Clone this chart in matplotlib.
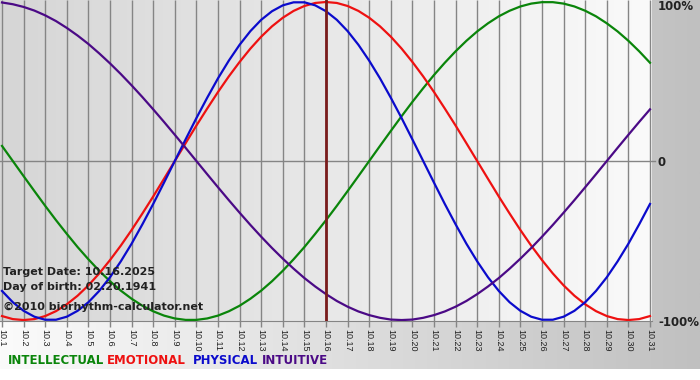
import matplotlib.pyplot as plt
import numpy as np
from matplotlib.colors import LinearSegmentedColormap

# biorhythm values (-1..1) every half day from 10.1 to 10.31
days = list(range(1, 32))
day_labels = ['10.%d' % d for d in days]
half_days = [1 + j / 2 for j in range(61)]
intellectual = [0.095, 0.0, -0.095, -0.189, -0.282, -0.372, -0.458, -0.541, -0.618, -0.690,
                -0.756, -0.815, -0.866, -0.910, -0.945, -0.972, -0.990, -0.999, -0.999, -0.990,
                -0.972, -0.945, -0.910, -0.866, -0.815, -0.756, -0.690, -0.618, -0.541, -0.458,
                -0.372, -0.282, -0.189, -0.095, 0.0, 0.095, 0.189, 0.282, 0.372, 0.458,
                0.541, 0.618, 0.690, 0.756, 0.815, 0.866, 0.910, 0.945, 0.972, 0.990,
                0.999, 0.999, 0.990, 0.972, 0.945, 0.910, 0.866, 0.815, 0.756, 0.690, 0.618]
emotional = [-0.975, -0.994, -1.0, -0.994, -0.975, -0.944, -0.901, -0.847, -0.782, -0.707,
             -0.623, -0.532, -0.434, -0.330, -0.223, -0.112, 0.0, 0.112, 0.223, 0.330,
             0.434, 0.532, 0.623, 0.707, 0.782, 0.847, 0.901, 0.944, 0.975, 0.994,
             1.0, 0.994, 0.975, 0.944, 0.901, 0.847, 0.782, 0.707, 0.623, 0.532,
             0.434, 0.330, 0.223, 0.112, 0.0, -0.112, -0.223, -0.330, -0.434, -0.532,
             -0.623, -0.707, -0.782, -0.847, -0.901, -0.944, -0.975, -0.994, -1.0, -0.994, -0.975]
physical = [-0.817, -0.888, -0.942, -0.979, -0.998, -0.998, -0.979, -0.942, -0.888, -0.817,
            -0.731, -0.631, -0.520, -0.398, -0.270, -0.136, 0.0, 0.136, 0.270, 0.398,
            0.520, 0.631, 0.731, 0.817, 0.888, 0.942, 0.979, 0.998, 0.998, 0.979,
            0.942, 0.888, 0.817, 0.731, 0.631, 0.520, 0.398, 0.270, 0.136, 0.0,
            -0.136, -0.270, -0.398, -0.520, -0.631, -0.731, -0.817, -0.888, -0.942, -0.979,
            -0.998, -0.998, -0.979, -0.942, -0.888, -0.817, -0.731, -0.631, -0.520, -0.398, -0.270]
intuitive = [0.997, 0.986, 0.969, 0.946, 0.916, 0.880, 0.837, 0.789, 0.736, 0.677,
             0.614, 0.547, 0.476, 0.402, 0.325, 0.246, 0.165, 0.083, 0.0, -0.083,
             -0.165, -0.246, -0.325, -0.402, -0.476, -0.547, -0.614, -0.677, -0.736, -0.789,
             -0.837, -0.880, -0.916, -0.946, -0.969, -0.986, -0.997, -1.0, -0.997, -0.986,
             -0.969, -0.946, -0.916, -0.880, -0.837, -0.789, -0.736, -0.677, -0.614, -0.547,
             -0.476, -0.402, -0.325, -0.246, -0.165, -0.083, 0.0, 0.083, 0.165, 0.246, 0.325]
target_day = 16
series = [('INTELLECTUAL', intellectual, '#0a850a'),
          ('EMOTIONAL', emotional, '#ee1111'),
          ('PHYSICAL', physical, '#0b0bcc'),
          ('INTUITIVE', intuitive, '#4b0a86')]

W, H = 700, 380
fig = plt.figure(figsize=(W / 100, H / 100), dpi=100, facecolor='white')

# page background: white -> gray gradient
bg = fig.add_axes([0, 0, 1, 1], zorder=0)
grad = np.linspace(0, 1, 256).reshape(1, -1)
bg.imshow(grad, cmap=LinearSegmentedColormap.from_list('pg', ['#fbfbfb', '#c0c0c0']),
          aspect='auto', extent=[0, 1, 1 - 369 / H, 1])
bg.set_xlim(0, 1)
bg.set_ylim(0, 1)
bg.axis('off')

px = 21.6
x0, x1 = 1 - 2 / px, 31 + 2 / px
y0, y1 = -1.006, 1.0126
ax = fig.add_axes([0, 1 - 321 / H, 652 / W, 321 / H], zorder=1)
ax.imshow(grad, cmap=LinearSegmentedColormap.from_list('pl', ['#d6d6d6', '#fafafa']),
          aspect='auto', extent=[x0, x1, y0, y1], zorder=0)
ax.set_xlim(x0, x1)
ax.set_ylim(y0, y1)

ax.vlines(days, y0, y1, color='#858585', lw=1, zorder=1)
ax.plot([x0, 31 + 5 / px], [0, 0], color='#858585', lw=1, clip_on=False, zorder=1)

for name, vals, col in series:
    ax.plot(half_days, vals, color=col, lw=1.6, zorder=3)

ax.axvline(target_day, color='#7a1c1c', lw=2, zorder=4)

for s in ['top', 'left', 'right']:
    ax.spines[s].set_visible(False)
ax.spines['bottom'].set_color('#858585')
ax.set_yticks([])
ax.set_xticks(days)
ax.set_xticklabels(day_labels, rotation=-90, fontsize=6.5, family='Liberation Sans', color='#222222')
ax.tick_params(axis='x', length=4, width=1, color='#858585', pad=1.5)

# info text over the plot
info = dict(fontsize=8, fontweight='bold', color='#222222', va='center', ha='left', zorder=5)
for txt, yy in [('Target Date: 10.16.2025', 272), ('Day of birth: 02.20.1941', 287),
                ('\u00a92010 biorhythm-calculator.net', 307)]:
    fig.text(3 / W, 1 - yy / H, txt, **info)

# right side percentage labels
for txt, yy in [('100%', 7), ('0', 162), ('-100%', 322)]:
    fig.text(658 / W, 1 - yy / H, txt, fontsize=8.5, fontweight='bold', color='#222222',
             va='center', ha='left')

# legend row
for (name, vals, col), xx in zip(series, [8, 107, 193, 262]):
    fig.text(xx / W, 1 - 361 / H, name, fontsize=8.5, fontweight='bold', color=col,
             va='center', ha='left')

fig.savefig('out.png', dpi=100)
